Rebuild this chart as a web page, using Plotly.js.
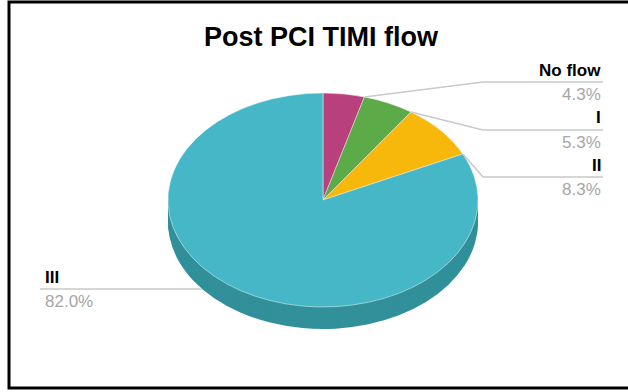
<!DOCTYPE html>
<html>
<head>
<meta charset="utf-8">
<script src="https://cdn.plot.ly/plotly-3.0.1.min.js"></script>
<style>
  html, body { margin: 0; padding: 0; background: #ffffff; }
  #chart { width: 628px; height: 392px; }
</style>
</head>
<body>
<div id="chart"></div>
<script>
// ---- data ----
const labels = ['No flow', 'I', 'II', 'III'];
const values = [4.3, 5.3, 8.3, 82.0];
const topColors = ['#B8407D', '#5DAA48', '#F8B70B', '#46B7C6'];
const sideColors = ['#8A2F5D', '#437F34', '#BE8A05', '#31909A'];
const chartTitle = 'Post PCI TIMI flow';

// ---- layout geometry (px) ----
const W = 628, H = 392;
const cx = 323, cy = 200, rx = 155, ry = 107, depth = 22;
const k = ry / rx;
const labelLineY = [82, 130, 177, 289];
const labelSide = ['right', 'right', 'right', 'left'];
const rightTextX = 603, leftTextX = 43, elbowX = 483;

const px = x => x / W;
const py = y => 1 - y / H;

function pieTrace(shift, colors, isTop) {
  const Yc = cy + shift / k;           // pre-squash centre
  const yc = 1 - Yc / H;
  return {
    type: 'pie',
    labels: labels,
    values: values,
    sort: false,
    direction: 'clockwise',
    rotation: 0,
    textinfo: 'none',
    hoverinfo: isTop ? 'label+percent' : 'skip',
    showlegend: false,
    marker: {
      colors: colors,
      line: { color: isTop ? 'rgba(255,255,255,0.55)' : 'rgba(0,0,0,0)', width: isTop ? 1 : 0 }
    },
    domain: { x: [px(cx - rx), px(cx + rx)], y: [yc - rx / H, yc + rx / H] }
  };
}

const traces = [];
const steps = 11;
for (let i = steps; i >= 1; i--) {
  traces.push(pieTrace(depth * i / steps, sideColors, false));
}
traces.push(pieTrace(0, topColors, true));

// ---- leader lines and labels derived from slice angles ----
const total = values.reduce((a, b) => a + b, 0);
const ends = [];
let acc = 0;
values.forEach(v => { acc += v; ends.push(acc / total); });

function leftEdgeX(y) {
  let t;
  if (y <= cy) t = (cy - y) / ry;
  else if (y <= cy + depth) t = 0;
  else t = (y - cy - depth) / ry;
  t = Math.min(1, t);
  return cx - rx * Math.sqrt(1 - t * t);
}

const shapes = [];
const annotations = [];
labels.forEach((lab, i) => {
  const ly = labelLineY[i];
  let path;
  if (labelSide[i] === 'right') {
    const th = 2 * Math.PI * ends[i];
    const ax = cx + rx * Math.sin(th);
    const ay = cy - ry * Math.cos(th);
    path = 'M' + px(ax) + ',' + py(ay) + ' L' + px(elbowX) + ',' + py(ly) + ' L' + px(rightTextX) + ',' + py(ly);
  } else {
    path = 'M' + px(leftTextX - 3) + ',' + py(ly) + ' L' + px(leftEdgeX(ly)) + ',' + py(ly);
  }
  shapes.push({ type: 'path', xref: 'paper', yref: 'paper', path: path,
                line: { color: '#c9c9c9', width: 1.5 }, layer: 'above' });
  const isRight = labelSide[i] === 'right';
  const tx = isRight ? px(rightTextX) : px(leftTextX);
  const anchor = isRight ? 'right' : 'left';
  annotations.push({ xref: 'paper', yref: 'paper', x: tx, y: py(ly - 12), xanchor: anchor, yanchor: 'middle',
                     text: '<b>' + lab + '</b>', showarrow: false,
                     font: { family: 'Liberation Sans, Arial, sans-serif', size: 17, color: '#000000' } });
  annotations.push({ xref: 'paper', yref: 'paper', x: tx, y: py(ly + 12), xanchor: anchor, yanchor: 'middle',
                     text: values[i].toFixed(1) + '%', showarrow: false,
                     font: { family: 'Liberation Sans, Arial, sans-serif', size: 17, color: '#a6a6a6' } });
});

// outer frame
shapes.push({ type: 'rect', xref: 'paper', yref: 'paper', x0: px(9), x1: px(660), y0: py(388), y1: py(2),
              line: { color: '#000000', width: 3 }, layer: 'above' });

const layout = {
  width: W, height: H,
  margin: { l: 0, r: 0, t: 0, b: 0 },
  paper_bgcolor: '#ffffff',
  title: { text: '<b>' + chartTitle + '</b>', x: px(321), xanchor: 'center', xref: 'paper',
           y: py(37), yanchor: 'middle', yref: 'container',
           font: { family: 'Liberation Sans, Arial, sans-serif', size: 27, color: '#000000' } },
  shapes: shapes,
  annotations: annotations,
  showlegend: false
};

Plotly.newPlot('chart', traces, layout, { displayModeBar: false, staticPlot: true }).then(gd => {
  const layer = gd.querySelector('.pielayer');
  if (layer) layer.setAttribute('transform', 'matrix(1,0,0,' + k + ',0,' + (cy * (1 - k)) + ')');
});
</script>
</body>
</html>
